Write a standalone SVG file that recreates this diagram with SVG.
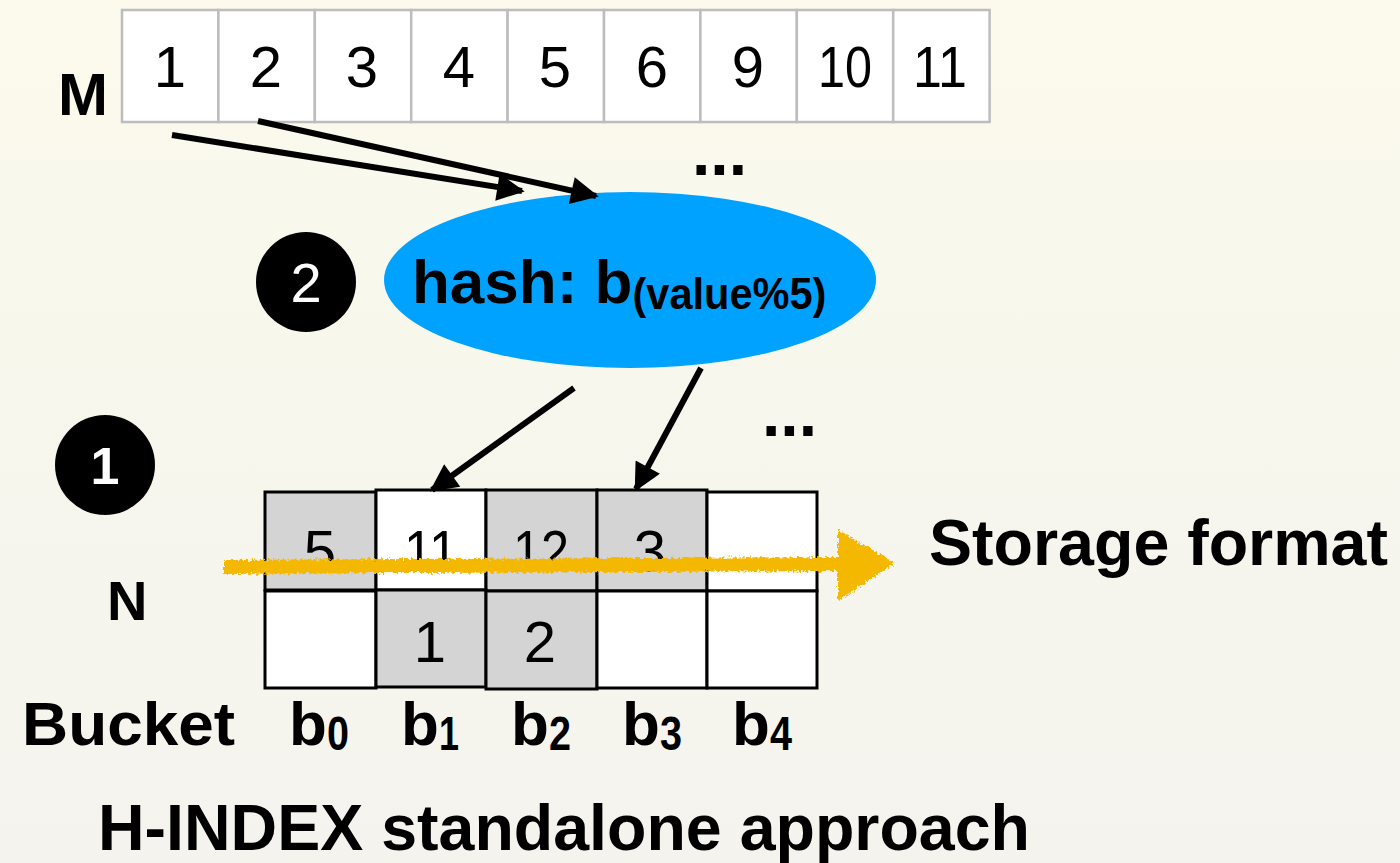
<svg xmlns="http://www.w3.org/2000/svg" width="1400" height="863" viewBox="0 0 1400 863">
<defs>
<linearGradient id="bg" x1="0" y1="0" x2="0" y2="1">
<stop offset="0" stop-color="#fbfaec"/>
<stop offset="1" stop-color="#f4f3ee"/>
</linearGradient>
<marker id="ah" viewBox="0 0 10 10" refX="9" refY="5" markerWidth="5" markerHeight="4.6" markerUnits="strokeWidth" orient="auto">
<path d="M0,0 L10,5 L0,10 z" fill="#000"/>
</marker>
<filter id="rough" x="-5%" y="-50%" width="110%" height="200%">
<feTurbulence type="fractalNoise" baseFrequency="0.35" numOctaves="2" seed="3" result="n"/>
<feDisplacementMap in="SourceGraphic" in2="n" scale="7" xChannelSelector="R" yChannelSelector="G"/>
</filter>
<style>
.t{font-family:"Liberation Sans",Arial,sans-serif;fill:#000}
.b{font-weight:bold}
.cellM{fill:#fff;stroke:#bdbdbd;stroke-width:2.5}
.cg{fill:#d4d4d4;stroke:#000;stroke-width:3}
.cw{fill:#fff;stroke:#000;stroke-width:3}
.num{font-size:58px;text-anchor:middle}
.conn{stroke:#000;stroke-width:6;fill:none;marker-end:url(#ah)}
</style>
</defs>
<rect width="1400" height="863" fill="url(#bg)"/>

<g id="arrayM">
<rect class="cellM" x="122" y="10" width="96.4" height="112"/>
<rect class="cellM" x="218.4" y="10" width="96.4" height="112"/>
<rect class="cellM" x="314.8" y="10" width="96.4" height="112"/>
<rect class="cellM" x="411.2" y="10" width="96.4" height="112"/>
<rect class="cellM" x="507.6" y="10" width="96.4" height="112"/>
<rect class="cellM" x="604" y="10" width="96.4" height="112"/>
<rect class="cellM" x="700.4" y="10" width="96.4" height="112"/>
<rect class="cellM" x="796.8" y="10" width="96.4" height="112"/>
<rect class="cellM" x="893.2" y="10" width="96.4" height="112"/>
<text class="t num" x="170" y="87">1</text>
<text class="t num" x="266" y="87">2</text>
<text class="t num" x="362" y="87">3</text>
<text class="t num" x="459" y="87">4</text>
<text class="t num" x="555" y="87">5</text>
<text class="t num" x="652" y="87">6</text>
<text class="t num" x="748" y="87">9</text>
<text class="t num" x="845" y="87" textLength="54" lengthAdjust="spacingAndGlyphs">10</text>
<text class="t num" x="940" y="87" textLength="54" lengthAdjust="spacingAndGlyphs">11</text>
</g>
<text class="t b" x="58" y="115" font-size="60">M</text>
<text class="t b" x="692" y="175" font-size="66">...</text>

<g id="hash">
<ellipse cx="630" cy="280" rx="246" ry="88" fill="#00a2ff"/>
<text class="t b" x="412" y="303" font-size="62">hash: b<tspan font-size="45" dy="6" textLength="194" lengthAdjust="spacingAndGlyphs">(value%5)</tspan></text>
</g>

<g id="step2">
<circle cx="306" cy="282" r="50" fill="#000"/>
<text class="t" x="306" y="302" font-size="56" text-anchor="middle" style="fill:#fff">2</text>
</g>
<g id="step1">
<circle cx="105" cy="465" r="50" fill="#000"/>
<text class="t b" x="105" y="484" font-size="52" text-anchor="middle" style="fill:#fff">1</text>
</g>

<text class="t b" x="762" y="436" font-size="66">...</text>

<g id="buckets">
<rect class="cg" x="265" y="492" width="111" height="98"/>
<rect class="cw" x="376" y="490" width="110" height="100"/>
<rect class="cg" x="486" y="490" width="111" height="101"/>
<rect class="cg" x="597" y="490" width="110" height="101"/>
<rect class="cw" x="707" y="492" width="110" height="99"/>
<rect class="cw" x="265" y="591" width="111" height="97"/>
<rect class="cg" x="376" y="590" width="110" height="97"/>
<rect class="cg" x="486" y="591" width="111" height="98"/>
<rect class="cw" x="597" y="591" width="110" height="97"/>
<rect class="cw" x="707" y="591" width="110" height="97"/>
<text class="t num" x="320" y="571">5</text>
<text class="t num" x="431" y="571" textLength="54" lengthAdjust="spacingAndGlyphs">11</text>
<text class="t num" x="541" y="571" textLength="56" lengthAdjust="spacingAndGlyphs">12</text>
<text class="t num" x="650" y="571">3</text>
<text class="t num" x="430" y="662">1</text>
<text class="t num" x="540" y="662">2</text>
</g>

<g id="storage" filter="url(#rough)">
<path d="M224,567 L845,564" stroke="#f5b800" stroke-width="14" fill="none"/>
<path d="M838,530 L895,563 L838,601 Z" fill="#f5b800"/>
</g>
<text class="t b" x="929" y="565" font-size="65" textLength="459" lengthAdjust="spacingAndGlyphs">Storage format</text>

<text class="t b" x="107" y="620" font-size="56">N</text>
<text class="t b" x="22" y="745" font-size="62" textLength="213" lengthAdjust="spacingAndGlyphs">Bucket</text>
<g class="t b" font-size="62">
<text x="289" y="745">b<tspan font-size="48" dy="5" textLength="22" lengthAdjust="spacingAndGlyphs">0</tspan></text>
<text x="401" y="745">b<tspan font-size="48" dy="5" textLength="20" lengthAdjust="spacingAndGlyphs">1</tspan></text>
<text x="511" y="745">b<tspan font-size="48" dy="5" textLength="22" lengthAdjust="spacingAndGlyphs">2</tspan></text>
<text x="622" y="745">b<tspan font-size="48" dy="5" textLength="22" lengthAdjust="spacingAndGlyphs">3</tspan></text>
<text x="732" y="745">b<tspan font-size="48" dy="5" textLength="22" lengthAdjust="spacingAndGlyphs">4</tspan></text>
</g>
<text class="t b" x="98" y="850" font-size="64" textLength="932" lengthAdjust="spacingAndGlyphs">H-INDEX standalone approach</text>

<g id="connectors">
<line class="conn" x1="172" y1="135" x2="522" y2="191"/>
<line class="conn" x1="258" y1="121" x2="596" y2="196"/>
<line class="conn" x1="574" y1="388" x2="432" y2="490"/>
<line class="conn" x1="701" y1="368" x2="636" y2="489"/>
</g>
</svg>
